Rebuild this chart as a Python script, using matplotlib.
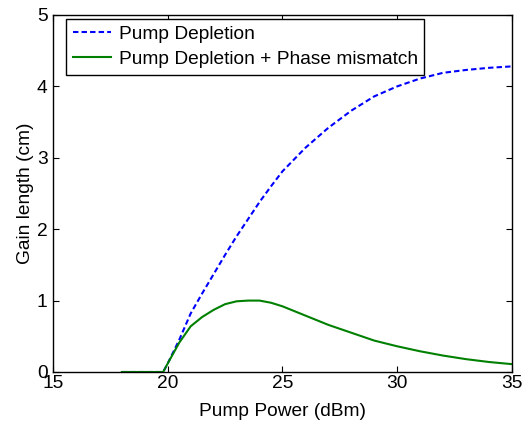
import matplotlib
matplotlib.use('Agg')
import matplotlib.pyplot as plt

# pump power (dBm)
power = [18, 19, 19.8, 20, 20.5, 21, 21.5, 22, 22.5, 23, 23.5, 24, 24.5, 25,
         26, 27, 28, 29, 30, 31, 32, 33, 34, 35]
# gain length (cm) with pump depletion only
depletion = [0, 0, 0, 0.12, 0.45, 0.82, 1.10, 1.37, 1.64, 1.90, 2.14, 2.38, 2.60, 2.81,
             3.14, 3.42, 3.66, 3.86, 4.00, 4.11, 4.19, 4.23, 4.26, 4.28]
# gain length (cm) with pump depletion + phase mismatch
mismatch = [0, 0, 0, 0.12, 0.41, 0.64, 0.77, 0.87, 0.95, 0.99, 1.0, 1.0, 0.97, 0.92,
            0.79, 0.66, 0.55, 0.44, 0.36, 0.29, 0.23, 0.18, 0.14, 0.11]

plt.rcParams['font.family'] = ['Liberation Sans', 'DejaVu Sans']
fs = 13.8

fig = plt.figure(figsize=(5.25, 4.22), dpi=100, facecolor='white')
ax = fig.add_axes([0.101, 0.1185, 0.874, 0.846])

ax.plot(power, depletion, color='#0000ff', linestyle='--', linewidth=1.5,
        dashes=(2.6, 1.5), label='Pump Depletion')
ax.plot(power, mismatch, color='#008000', linestyle='-', linewidth=1.5,
        label='Pump Depletion + Phase mismatch')

ax.set_xlim(15, 35)
ax.set_ylim(0, 5)
ax.set_xticks([15, 20, 25, 30, 35])
ax.set_yticks([0, 1, 2, 3, 4, 5])
ax.tick_params(direction='in', length=4, top=True, right=True, labelsize=fs)
ax.tick_params(axis='x', pad=2)
ax.tick_params(axis='y', pad=4)
for s in ax.spines.values():
    s.set_linewidth(1.0)

ax.set_xlabel('Pump Power (dBm)', fontsize=fs, labelpad=8)
ax.set_ylabel('Gain length (cm)', fontsize=fs, labelpad=2)

leg = ax.legend(loc='upper left', bbox_to_anchor=(0.028, 0.989), borderaxespad=0,
                fontsize=fs, fancybox=False, framealpha=1, edgecolor='black',
                handlelength=2.0, borderpad=0.35, labelspacing=0.4, handletextpad=0.4)
leg.get_frame().set_linewidth(1.0)

fig.savefig('out.png', dpi=100)
